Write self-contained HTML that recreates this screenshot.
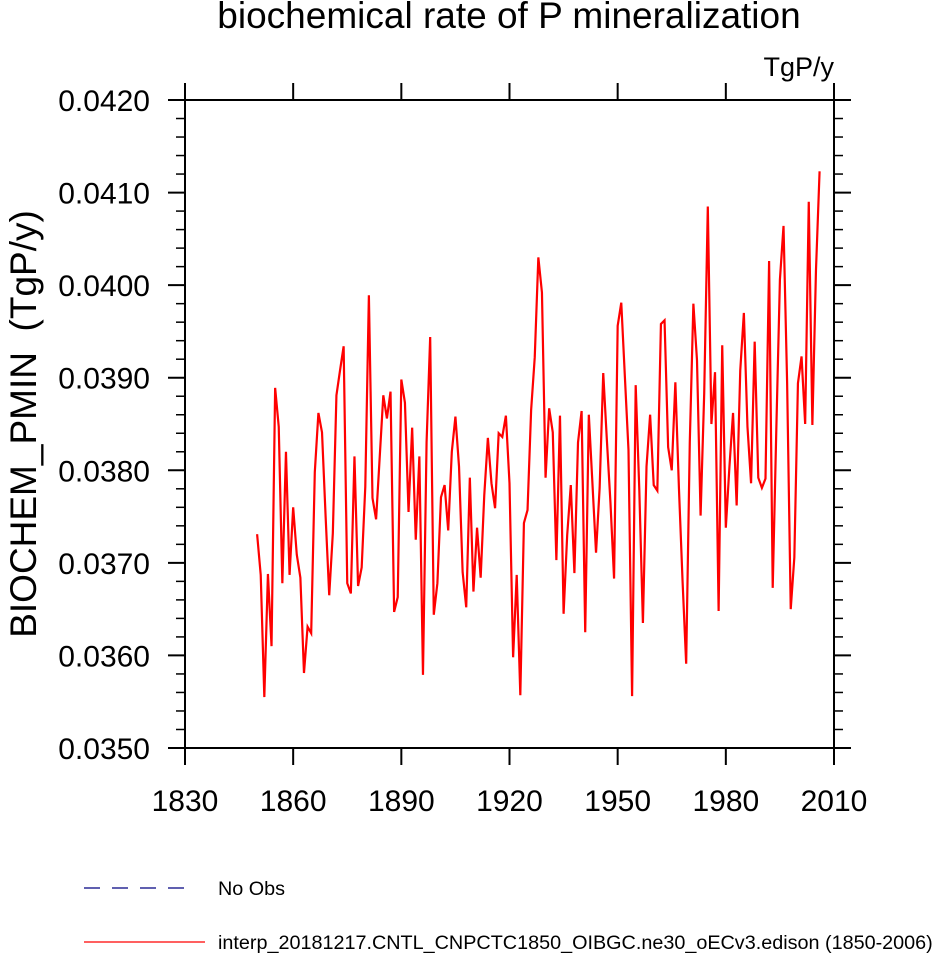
<!DOCTYPE html>
<html><head><meta charset="utf-8"><style>
body{margin:0;background:#fff;}
svg text{font-family:"Liberation Sans",Arial,sans-serif;fill:#000;}
</style></head><body>
<svg id="chart" width="932" height="953" viewBox="0 0 932 953">
<text x="509" y="28" font-size="37" text-anchor="middle">biochemical rate of P mineralization</text>
<text x="834" y="76" font-size="27" text-anchor="end">TgP/y</text>
<text transform="translate(36,424) rotate(-90)" font-size="37" text-anchor="middle" xml:space="preserve">BIOCHEM_PMIN  (TgP/y)</text>
<g id="axes"></g>
<polyline id="series" fill="none" stroke="#ff0000" stroke-width="2.2" stroke-linejoin="miter"></polyline>
<rect x="185" y="100" width="649" height="648" fill="none" stroke="#000" stroke-width="2"/>
<g>
<line x1="84" y1="888" x2="195" y2="888" stroke="#000080" stroke-width="1.3" stroke-dasharray="16,12"/>
<text x="218" y="895" font-size="19.8">No Obs</text>
<line x1="84" y1="942" x2="205" y2="942" stroke="#ff0000" stroke-width="1.3"/>
<text x="218" y="949" font-size="19.8">interp_20181217.CNTL_CNPCTC1850_OIBGC.ne30_oECv3.edison (1850-2006)</text>
</g>
</svg>
<script>
const startYear = 1850;
const values = [
0.03731,0.03687,0.03555,0.03688,0.03610,0.03889,0.03847,0.03678,0.03820,0.03687,
0.03760,0.03709,0.03684,0.03581,0.03631,0.03624,0.03798,0.03862,0.03841,0.03750,
0.03665,0.03732,0.03881,0.03908,0.03934,0.03678,0.03667,0.03815,0.03675,0.03695,
0.03782,0.03989,0.03770,0.03747,0.03814,0.03881,0.03856,0.03885,0.03647,0.03663,
0.03898,0.03873,0.03755,0.03846,0.03725,0.03815,0.03579,0.03830,0.03944,0.03644,
0.03678,0.03771,0.03784,0.03735,0.03820,0.03858,0.03804,0.03690,0.03652,0.03792,
0.03669,0.03738,0.03684,0.03773,0.03835,0.03786,0.03759,0.03840,0.03836,0.03859,
0.03786,0.03598,0.03687,0.03557,0.03743,0.03757,0.03865,0.03922,0.04030,0.03992,
0.03792,0.03867,0.03841,0.03703,0.03859,0.03645,0.03730,0.03784,0.03689,0.03830,
0.03864,0.03625,0.03860,0.03786,0.03711,0.03781,0.03905,0.03833,0.03765,0.03683,
0.03956,0.03981,0.03901,0.03822,0.03556,0.03892,0.03779,0.03635,0.03804,0.03860,
0.03784,0.03778,0.03958,0.03962,0.03825,0.03800,0.03895,0.03780,0.03680,0.03591,
0.03830,0.03980,0.03919,0.03751,0.03883,0.04085,0.03850,0.03906,0.03648,0.03935,
0.03738,0.03804,0.03862,0.03762,0.03908,0.03970,0.03847,0.03786,0.03939,0.03792,
0.03781,0.03791,0.04026,0.03673,0.03844,0.04006,0.04064,0.03894,0.03650,0.03706,
0.03894,0.03923,0.03850,0.04090,0.03849,0.04016,0.04123];
const yTicks = [0.035,0.036,0.037,0.038,0.039,0.040,0.041,0.042];
const yTickLabels = ["0.0350","0.0360","0.0370","0.0380","0.0390","0.0400","0.0410","0.0420"];
const xTicks = [1830,1860,1890,1920,1950,1980,2010];
const xTickLabels = ["1830","1860","1890","1920","1950","1980","2010"];

const X0=185,X1=834,Y0=748,Y1=100;
function xs(v){return X0+(v-1830)/(2010-1830)*(X1-X0);}
function ys(v){return Y0-(v-0.035)/(0.042-0.035)*(Y0-Y1);}
const NS='http://www.w3.org/2000/svg';
const axes=document.getElementById('axes');
function ln(x1,y1,x2,y2,w){const l=document.createElementNS(NS,'line');l.setAttribute('x1',x1);l.setAttribute('y1',y1);l.setAttribute('x2',x2);l.setAttribute('y2',y2);l.setAttribute('stroke','#000');l.setAttribute('stroke-width',w);axes.appendChild(l);return l;}
yTicks.forEach((t,i)=>{
  const y=ys(t);
  let a=ln(X0-17,y,X0,y,2);
  
  
  let b=ln(X1,y,X1+17,y,2);
  
  
  const tx=document.createElementNS(NS,'text');
  tx.setAttribute('x',150);tx.setAttribute('y',y+11);tx.setAttribute('font-size','30');tx.setAttribute('text-anchor','end');
  tx.textContent=yTickLabels[i];
  
  
  axes.appendChild(tx);
  if(i<yTicks.length-1){for(let k=1;k<5;k++){const ym=ys(t+k*0.0002);
    let m=ln(X0-9,ym,X0,ym,1.5);
    
    
    let m2=ln(X1,ym,X1+9,ym,1.5);
    
    }}
});
xTicks.forEach((t,i)=>{
  const x=xs(t);
  let a=ln(x,Y0,x,Y0+17,2);
  
  
  let b=ln(x,Y1-17,x,Y1,2);
  
  
  const tx=document.createElementNS(NS,'text');
  tx.setAttribute('x',x);tx.setAttribute('y',811);tx.setAttribute('font-size','30');tx.setAttribute('text-anchor','middle');
  tx.textContent=xTickLabels[i];
  
  
  axes.appendChild(tx);
});
document.getElementById('series').setAttribute('points',values.map((v,i)=>xs(startYear+i).toFixed(2)+','+ys(v).toFixed(2)).join(' '));
</script>
</body></html>
